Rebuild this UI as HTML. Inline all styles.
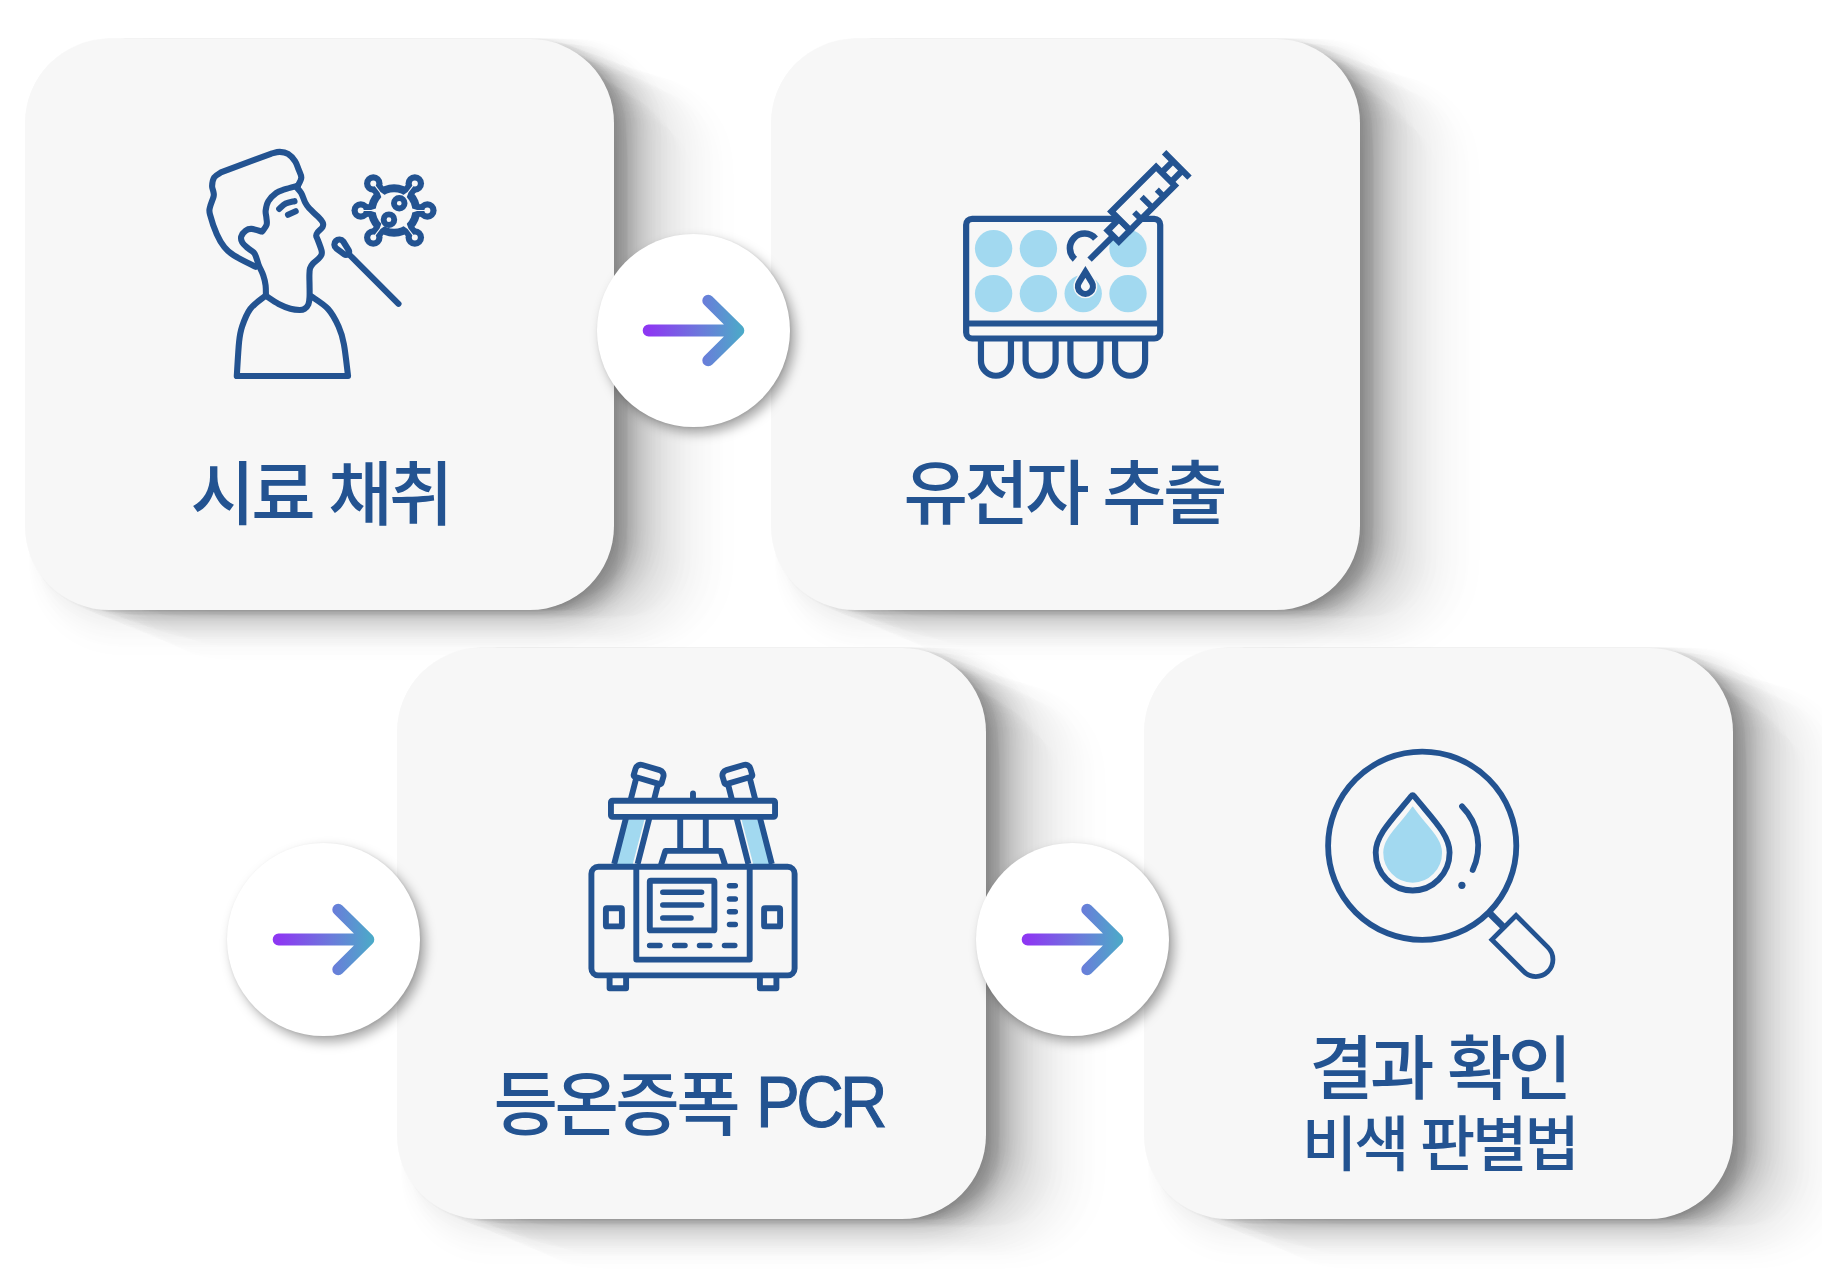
<!DOCTYPE html>
<html lang="ko">
<head>
<meta charset="utf-8">
<title>등온증폭 PCR 검사 과정</title>
<style>
html,body{margin:0;padding:0;background:#fff;}
body{width:1822px;height:1274px;position:relative;overflow:hidden;font-family:"Liberation Sans","Noto Sans CJK KR",sans-serif;}
.card{position:absolute;width:589px;height:571px;border-radius:84px;background:#f7f7f7;box-shadow:1.1px 0.1px 4.2px rgba(0,0,0,0.0116),3.4px 0.2px 4.7px rgba(0,0,0,0.0116),5.7px 0.4px 5.3px rgba(0,0,0,0.0116),8.1px 0.6px 5.8px rgba(0,0,0,0.0116),10.6px 0.8px 6.3px rgba(0,0,0,0.0116),13.1px 1.0px 6.9px rgba(0,0,0,0.0116),15.8px 1.2px 7.5px rgba(0,0,0,0.0116),18.6px 1.4px 8.1px rgba(0,0,0,0.0116),21.5px 1.6px 8.8px rgba(0,0,0,0.0116),24.5px 1.8px 9.4px rgba(0,0,0,0.0116),27.7px 2.1px 9.9px rgba(0,0,0,0.0116),31.1px 2.3px 10.6px rgba(0,0,0,0.0116),34.8px 2.6px 11.6px rgba(0,0,0,0.0116),38.8px 2.9px 12.6px rgba(0,0,0,0.0116),43.4px 3.2px 13.7px rgba(0,0,0,0.0116),49.2px 3.6px 14.9px rgba(0,0,0,0.0116),9.0px 2.5px 11.4px rgba(0,0,0,0.0118),9.0px 7.5px 15.6px rgba(0,0,0,0.0118),9.0px 12.9px 16.6px rgba(0,0,0,0.0118),9.0px 18.6px 17.8px rgba(0,0,0,0.0118),9.0px 24.7px 19.5px rgba(0,0,0,0.0118),9.0px 31.6px 22.6px rgba(0,0,0,0.0118),9.0px 39.8px 24.6px rgba(0,0,0,0.0118),1.5px 0.6px 5.7px rgba(0,0,0,0.0119),4.6px 1.7px 9.2px rgba(0,0,0,0.0119),7.8px 2.9px 9.6px rgba(0,0,0,0.0119),11.0px 4.2px 11.3px rgba(0,0,0,0.0119),14.4px 5.4px 12.0px rgba(0,0,0,0.0119),17.8px 6.7px 12.0px rgba(0,0,0,0.0119),21.3px 8.0px 12.0px rgba(0,0,0,0.0119),24.9px 9.4px 12.0px rgba(0,0,0,0.0119),28.7px 10.8px 12.0px rgba(0,0,0,0.0119),32.5px 12.3px 12.0px rgba(0,0,0,0.0119),36.5px 13.7px 12.1px rgba(0,0,0,0.0119),40.6px 15.3px 12.5px rgba(0,0,0,0.0119),44.8px 16.9px 13.0px rgba(0,0,0,0.0119),49.2px 18.5px 13.5px rgba(0,0,0,0.0119),53.8px 20.3px 14.0px rgba(0,0,0,0.0119),58.6px 22.1px 14.7px rgba(0,0,0,0.0119),63.6px 24.0px 15.4px rgba(0,0,0,0.0119),68.8px 26.0px 16.3px rgba(0,0,0,0.0119),74.4px 28.1px 17.4px rgba(0,0,0,0.0119),80.4px 30.3px 18.7px rgba(0,0,0,0.0119),86.9px 32.8px 20.4px rgba(0,0,0,0.0119),94.0px 35.5px 23.1px rgba(0,0,0,0.0119),102.3px 38.6px 28.0px rgba(0,0,0,0.0119),112.7px 42.5px 31.3px rgba(0,0,0,0.0119),16px 12px 20px rgba(0,0,0,0.02);}
#c1{left:25px;top:39px;}
#c2{left:771px;top:39px;}
#c3{left:397px;top:648px;}
#c4{left:1144px;top:648px;}
.dot{position:absolute;width:193px;height:193px;border-radius:50%;background:#fff;box-shadow:5px 6px 12px rgba(0,0,0,0.34),1px 1px 3px rgba(0,0,0,0.08);}
#d1{left:597px;top:234px;}
#d2{left:226.5px;top:842.5px;}
#d3{left:975.5px;top:842.5px;}
.dot svg{position:absolute;left:0;top:0;width:193px;height:193px;}
.label{position:absolute;width:589px;text-align:center;color:#235391;font-weight:500;font-size:70px;line-height:80px;white-space:nowrap;letter-spacing:-3.5px;}
.label.small{font-size:60px;line-height:70px;letter-spacing:-3px;}
.lat{display:inline-block;font-size:72px;letter-spacing:-4px;transform:scaleX(0.912);transform-origin:0 50%;margin-left:3px;margin-right:-12px;position:relative;top:-3.6px;-webkit-text-stroke:1.1px #235391;}
#icons{position:absolute;left:0;top:0;width:1822px;height:1274px;}
</style>
</head>
<body>
<div class="card" id="c1"></div>
<div class="card" id="c2"></div>
<div class="card" id="c3"></div>
<div class="card" id="c4"></div>

<div class="dot" id="d1"><svg viewBox="0 0 193 193"><use href="#arrow"/></svg></div>
<div class="dot" id="d2"><svg viewBox="0 0 193 193"><use href="#arrow"/></svg></div>
<div class="dot" id="d3"><svg viewBox="0 0 193 193"><use href="#arrow"/></svg></div>

<div class="label" id="t1" style="left:25.7px;top:455.6px;">시료 채취</div>
<div class="label" id="t2" style="left:769.3px;top:455.4px;">유전자 추출</div>
<div class="label" id="t3" style="left:394.3px;top:1065.1px;">등온증폭 <span class="lat">PCR</span></div>
<div class="label" id="t4" style="left:1144.5px;top:1029.5px;">결과 확인</div>
<div class="label small" id="t5" style="left:1144.8px;top:1110.7px;">비색 판별법</div>

<svg id="icons" viewBox="0 0 1822 1274">
<defs>
<linearGradient id="ag" gradientUnits="userSpaceOnUse" x1="52" y1="0" x2="146" y2="0">
<stop offset="0" stop-color="#8d38f2"/>
<stop offset="0.55" stop-color="#6b7adb"/>
<stop offset="1" stop-color="#4caac8"/>
</linearGradient>
<g id="arrow" fill="none" stroke="url(#ag)" stroke-width="11.8" stroke-linecap="round" stroke-linejoin="round">
<path d="M51.6 96.5H141.4M111.2 66.6L141.4 96.5L111.2 126.4"/>
</g>
</defs>
<g id="icon-person" fill="none" stroke="#235391" stroke-width="6.1" stroke-linecap="round" stroke-linejoin="round">
<path d="M298.00 185.60C298.55 184.28 301.20 180.40 301.30 177.70C301.40 175.00 299.63 172.15 298.60 169.40C297.57 166.65 296.87 163.78 295.10 161.20C293.33 158.62 290.55 155.45 288.00 153.90C285.45 152.35 282.55 151.95 279.80 151.90C277.05 151.85 272.88 153.32 271.50 153.60L220.9 172.4C219.78 173.23 215.67 175.15 214.20 177.40C212.73 179.65 212.23 183.50 212.10 185.90C211.97 188.30 213.15 190.03 213.40 191.80C213.65 193.57 214.18 193.88 213.60 196.50C213.02 199.12 210.50 204.50 209.90 207.50C209.30 210.50 208.85 210.05 210.00 214.50C211.15 218.95 214.40 228.77 216.80 234.20C219.20 239.63 221.56 243.57 224.40 247.10C227.24 250.63 228.65 252.10 233.85 255.40C239.05 258.70 251.97 264.98 255.60 266.90"/>
<path d="M298.00 185.60C295.75 186.24 288.13 188.22 284.50 189.45C280.87 190.68 278.90 191.04 276.20 193.00C273.50 194.96 270.06 198.26 268.30 201.20C266.54 204.14 265.97 207.90 265.65 210.65C265.33 213.40 266.24 215.34 266.40 217.70C266.56 220.06 267.32 222.48 266.60 224.80C265.88 227.12 262.85 230.47 262.10 231.60C260.33 231.15 254.25 229.05 251.50 228.90C248.75 228.75 247.32 229.42 245.60 230.70C243.88 231.97 241.75 234.60 241.20 236.55C240.65 238.50 241.17 240.44 242.30 242.40C243.43 244.36 245.95 246.43 248.00 248.30C250.05 250.17 252.83 250.85 254.60 253.60C256.37 256.35 257.15 261.17 258.60 264.80C260.05 268.43 262.13 271.98 263.30 275.40C264.47 278.82 265.17 281.93 265.60 285.30C266.03 288.67 265.85 293.88 265.90 295.60"/>
<path d="M296.30 187.00C297.12 188.00 299.73 190.43 301.20 193.00C302.67 195.57 303.77 199.85 305.10 202.40C306.43 204.95 307.14 206.00 309.20 208.30C311.26 210.60 315.22 213.88 317.45 216.20C319.68 218.52 321.74 220.40 322.60 222.20C323.46 224.00 323.40 225.37 322.60 227.00C321.80 228.63 318.87 230.57 317.80 232.00C316.73 233.43 316.17 234.20 316.20 235.60C316.23 237.00 317.10 237.88 318.00 240.40C318.90 242.92 321.03 248.28 321.60 250.70C322.17 253.12 321.90 253.57 321.40 254.90C320.90 256.23 320.02 257.25 318.60 258.70C317.18 260.15 314.33 262.00 312.90 263.60C311.47 265.20 310.58 266.33 310.00 268.30C309.42 270.27 309.47 272.57 309.40 275.40C309.32 278.23 309.52 281.68 309.55 285.30C309.58 288.92 309.74 293.92 309.55 297.10C309.36 300.28 309.24 302.43 308.40 304.40C307.56 306.37 305.97 307.97 304.50 308.90C303.03 309.83 301.95 310.03 299.60 310.00C297.25 309.97 293.90 309.70 290.40 308.70C286.90 307.70 282.68 306.13 278.60 304.00C274.52 301.87 268.02 297.25 265.90 295.90"/>
<path d="M264.45 296.50C262.09 298.57 254.03 303.90 250.30 308.90C246.58 313.90 243.97 321.02 242.10 326.50C240.23 331.98 239.98 333.55 239.10 341.80C238.22 350.05 237.18 370.30 236.80 376.00L348.05 376.0C347.36 370.70 345.47 352.45 343.90 344.20C342.32 335.95 341.25 332.38 338.60 326.50C335.95 320.62 332.51 313.90 328.00 308.90C323.49 303.90 314.29 298.57 311.55 296.50"/>
<path d="M279.20 208.90C280.28 208.02 283.15 204.88 285.70 203.60C288.25 202.32 293.03 201.60 294.50 201.20"/>
<path d="M288.0 214.8L295.7 211.2"/>
<path d="M345 250.3L398.5 303.8"/>
<path d="M346 251.7L338.2 246.0A1.85 1.85 0 1 1 340.8 243.4Z" fill="#235391" stroke-width="12.4"/>
<path d="M346 251.7L338.2 246.0A1.85 1.85 0 1 1 340.8 243.4Z" fill="#f7f7f7" stroke="none"/>
<g stroke="none" fill="#235391">
<circle cx="394.05" cy="210.5" r="26.2"/>
<circle cx="373.29" cy="183.42" r="9.25"/>
<circle cx="414.81" cy="183.42" r="9.25"/>
<circle cx="360.75" cy="210.50" r="9.25"/>
<circle cx="427.35" cy="210.50" r="9.25"/>
<circle cx="373.29" cy="237.58" r="9.25"/>
<circle cx="414.81" cy="237.58" r="9.25"/>
</g>
<path d="M373.29 183.42L381.59 194.25M414.81 183.42L406.51 194.25M360.75 210.50L374.07 210.50M427.35 210.50L414.03 210.50M373.29 237.58L381.59 226.75M414.81 237.58L406.51 226.75" stroke-width="12.5" stroke-linecap="butt"/>
<g stroke="none" fill="#f7f7f7">
<circle cx="394.05" cy="210.5" r="18.3"/>
<circle cx="373.29" cy="183.42" r="3.0"/>
<circle cx="414.81" cy="183.42" r="3.0"/>
<circle cx="360.75" cy="210.50" r="3.0"/>
<circle cx="427.35" cy="210.50" r="3.0"/>
<circle cx="373.29" cy="237.58" r="3.0"/>
<circle cx="414.81" cy="237.58" r="3.0"/>
</g>
<path d="M385.15 195.27L380.53 191.88L373.77 183.05L372.81 183.79L379.58 192.61L381.66 197.95Z" fill="#f7f7f7" stroke="none"/>
<path d="M406.44 197.95L408.52 192.61L415.29 183.79L414.33 183.05L407.57 191.88L402.95 195.27Z" fill="#f7f7f7" stroke="none"/>
<path d="M376.55 208.30L371.05 209.90L360.75 209.90L360.75 211.10L371.05 211.10L376.55 212.70Z" fill="#f7f7f7" stroke="none"/>
<path d="M411.55 212.70L417.05 211.10L427.35 211.10L427.35 209.90L417.05 209.90L411.55 208.30Z" fill="#f7f7f7" stroke="none"/>
<path d="M381.66 223.05L379.58 228.39L372.81 237.21L373.77 237.95L380.53 229.12L385.15 225.73Z" fill="#f7f7f7" stroke="none"/>
<path d="M402.95 225.73L407.57 229.12L414.33 237.95L415.29 237.21L408.52 228.39L406.44 223.05Z" fill="#f7f7f7" stroke="none"/>
<circle cx="399.26" cy="203.27" r="5.3" stroke-width="5.9"/>
<circle cx="388.94" cy="219.66" r="5.3" stroke-width="5.9"/>
</g>
<g id="icon-plate" fill="none" stroke="#235391" stroke-width="6.2">
<g fill="#a2d9f0" stroke="none">
<circle cx="993.6" cy="248.6" r="18.7"/><circle cx="1038.4" cy="248.6" r="18.7"/><circle cx="1128" cy="248.6" r="18.7"/>
<circle cx="993.6" cy="293.6" r="18.7"/><circle cx="1038.4" cy="293.6" r="18.7"/><circle cx="1083.2" cy="293.6" r="18.7"/><circle cx="1128" cy="293.6" r="18.7"/>
</g>
<rect x="966.15" y="218.8" width="194.05" height="119.7" rx="6" ry="6"/>
<path d="M966 323.5H1160"/>
<path d="M980.95 340V360.75a15 15 0 0 0 30 0V340M1025.6 340V360.75a15 15 0 0 0 30 0V340M1070.4 340V360.75a15 15 0 0 0 30 0V340M1115.1 340V360.75a15 15 0 0 0 30 0V340"/>
<path d="M1095.5 238.6A14.6 14.6 0 1 0 1074.9 259.2" stroke-width="6.5"/>
<path d="M1085.4 271.9L1091.8 282.4A7.5 7.5 0 1 1 1079 282.4Z" stroke="#f7f7f7" stroke-width="9" stroke-linejoin="miter" stroke-miterlimit="10"/>
<path d="M1085.4 271.9L1091.8 282.4A7.5 7.5 0 1 1 1079 282.4Z" fill="#f7f7f7" stroke-linejoin="miter" stroke-miterlimit="10"/>
<g transform="translate(1089.575 259.675) rotate(-45)">
<path d="M0 0H33" />
<rect x="33.5" y="-7.85" width="16" height="15.7" fill="#f7f7f7"/>
<rect x="49.5" y="-18.6" width="63.2" height="26.45" fill="#f7f7f7"/>
<path d="M65.1 7.8V-2M81.2 7.8V-7.6M97.1 7.8V-2" stroke-width="5.8"/>
<path d="M112.7 -10.7H128.7M112.7 2.6H128.7M128.7 -23.3V12.6"/>
</g>
</g>

<g id="icon-pcr" fill="none" stroke="#235391" stroke-width="5.9">
<g id="pcr-tube">
<path d="M625.6 819.7L644.4 819.7L632.8 864L614.2 864Z" fill="#a2d9f0" stroke="none"/>
<path d="M636 779L614.2 864.1M657.8 785L637.6 864.1"/>
<g transform="translate(649.1 774) rotate(16.5)">
<path d="M-14.5 5.2V-1.2a5.5 5.5 0 0 1 5.5-5.5H9a5.5 5.5 0 0 1 5.5 5.5V5.2a1.5 1.5 0 0 1-1.5 1.5H-13a1.5 1.5 0 0 1-1.5-1.5Z" fill="#f7f7f7"/>
</g>
</g>
<use href="#pcr-tube" transform="translate(1386 0) scale(-1 1)"/>
<path d="M693 793.4V799" stroke-linecap="round"/>
<rect x="610.95" y="800.7" width="164.1" height="16.15" rx="1.5" fill="#f7f7f7"/>
<path d="M680.2 819V851M705.8 819V851"/>
<path d="M660.4 866.8L665.4 850.9H720.6L725.6 866.8" stroke-linejoin="round"/>
<rect x="591.4" y="866.8" width="203.2" height="108.6" rx="7"/>
<path d="M609.6 975.4V988.2H626.1V975.4M759.9 975.4V988.2H776.4V975.4" stroke-linejoin="round"/>
<path d="M636.3 866.8V959.6H749.7V866.8" stroke-linejoin="round"/>
<rect x="649.8" y="880.7" width="64.6" height="49.7" rx="1"/>
<rect x="605.9" y="908.2" width="16" height="18.2" rx="1"/>
<rect x="764.1" y="908.2" width="16" height="18.2" rx="1"/>
<g stroke-linecap="round" stroke-width="5.5">
<path d="M662.8 892.2H701.6M662.8 904.9H701.6M662.8 918H691"/>
<path d="M729.5 885.8H735.3M729.5 898.9H735.3M729.5 911.7H735.3M729.5 924.4H735.3"/>
<path d="M649.6 945.6H660M674.7 945.6H685M699.5 945.6H709.8M724.5 945.6H734.8"/>
</g>
</g>

<g id="icon-mag" fill="none" stroke="#235391" stroke-width="5.8">
<circle cx="1422.2" cy="845.8" r="94.1"/>
<path d="M1412.65 794.3C1396 818.7 1375.7 833.4 1375.7 852.5A36.95 38 0 0 0 1449.6 852.5C1449.6 833.4 1429.3 818.7 1412.65 794.3Z" fill="#a2d9f0" stroke="#a2d9f0" stroke-width="2" stroke-linejoin="round" transform="translate(1412.65 852.5) scale(0.775) translate(-1412.65 -852.5)"/>
<path d="M1411.1 796.3C1394 817.5 1375.7 834.5 1375.7 852.5A36.95 38 0 0 0 1449.6 852.5C1449.6 834.5 1431.3 817.5 1414.2 796.3Q1412.65 794.1 1411.1 796.3Z" stroke-linejoin="round"/>
<path d="M1462 806.4A56 56 0 0 1 1472.7 869.9" stroke-linecap="round"/>
<circle cx="1461.9" cy="885.3" r="3.6" fill="#235391" stroke="none"/>
<g transform="translate(1422.2 845.8) rotate(45)">
<path d="M94 0H114" stroke-width="6.8"/>
<path d="M160.7 -17.1H115.65V17.1H160.7A17.1 17.1 0 0 0 160.7 -17.1Z" stroke-width="4.8"/>
</g>
</g>

</svg>
</body>
</html>
